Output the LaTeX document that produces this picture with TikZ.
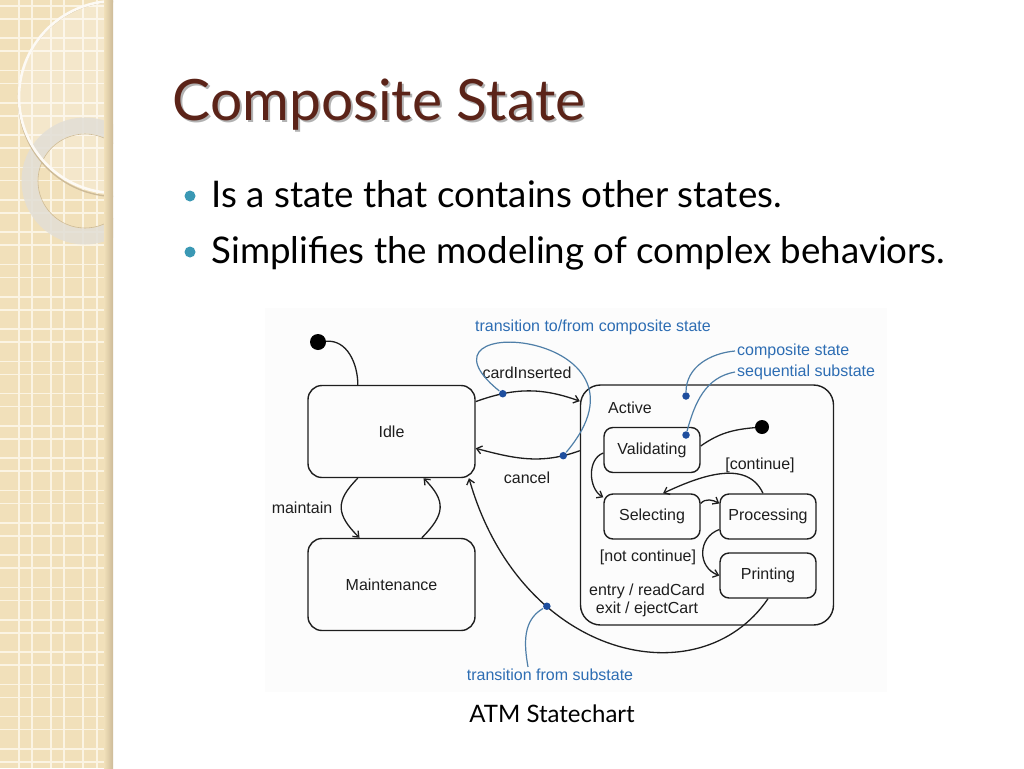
\documentclass[tikz,border=0pt]{standalone}
\usepackage{fontspec}
\setmainfont{Lato}
\newfontfamily\diagfont{Liberation Sans}
\usetikzlibrary{positioning}
\usetikzlibrary{calc}
\usetikzlibrary{arrows.meta}
\definecolor{titlebrown}{HTML}{5B2318}
\definecolor{bulletblue}{HTML}{3A98B4}
\definecolor{stripbeige}{HTML}{F1E0BA}
\definecolor{stripline}{HTML}{FBF4E3}
\definecolor{stripedge}{HTML}{CDBB98}
\definecolor{ringgrey}{HTML}{E2DED6}
\definecolor{notetext}{HTML}{2D6DB3}
\definecolor{noteline}{HTML}{4F7FA8}
\definecolor{notedot}{HTML}{1E4E9E}
\definecolor{ink}{HTML}{1E1E1E}
\tikzset{>={Straight Barb[length=5pt,width=8pt]}}
\tikzset{st/.style={draw=ink,line width=1.4pt,rounded corners=14pt,minimum width=167pt,minimum height=92pt,inner sep=0pt,text=ink,font=\diagfont\fontsize{16}{18}\selectfont}}
\tikzset{sub/.style={st,rounded corners=9pt,minimum width=96pt,minimum height=45pt}}
\tikzset{ed/.style={draw=ink,line width=1.3pt}}
\tikzset{lbl/.style={inner sep=0pt,text=ink,font=\diagfont\fontsize{16}{18}\selectfont}}
\tikzset{note/.style={inner sep=2pt,text=notetext,font=\diagfont\fontsize{16}{18}\selectfont}}
\tikzset{noteln/.style={draw=noteline,line width=1.2pt}}
\tikzset{bdot/.style={circle,fill=notedot,inner sep=0pt,minimum size=7.5pt}}
\tikzset{startdot/.style={circle,fill=black,inner sep=0pt,minimum size=16pt}}
\tikzset{bullet/.style={circle,fill=bulletblue,inner sep=0pt,minimum size=11pt}}

\begin{document}
\begin{tikzpicture}[x=1pt,y=-1pt]
        \useasboundingbox (0,0) rectangle (1024,768);
        \fill[white] (0,0) rectangle (1024,768);

        % side strip
        \fill[stripbeige] (0,0) rectangle (113,768);
        \foreach \vx in {19,32,51,64,83,97}
            \draw[stripline,line width=1.6pt] (\vx,0) -- (\vx,768);
        \foreach \k in {0,...,23} {
            \draw[stripline,line width=1.6pt] (0,{6+32.3*\k}) -- (113,{6+32.3*\k});
            \draw[stripline,line width=1.6pt] (0,{19+32.3*\k}) -- (113,{19+32.3*\k});
        }
        \begin{scope}
            \clip (0,0) rectangle (113,768);
            \fill[white,opacity=0.25] (115,97) circle[radius=96pt];
            \draw[line width=16pt,ringgrey,opacity=0.85] (85,181) circle[radius=55.5pt];
            \draw[line width=0.6pt,stripedge] (85,181) circle[radius=47pt];
            \draw[line width=1.4pt,stripedge] (116,99) circle[radius=97.5pt];
            \draw[line width=2.6pt,white!85!stripbeige] (115,97) circle[radius=96pt];
        \end{scope}
        \shade[left color=stripbeige,right color=stripedge] (104,0) rectangle (113,768);

        % slide text
        \node[anchor=base west,text=black,opacity=0.3,font=\fontsize{57}{60}\selectfont] at (171,122) {Composite State};
        \node[anchor=base west,text=titlebrown,font=\fontsize{57}{60}\selectfont] (title) at (169,120) {Composite State};
        \node[bullet] (dot1) at (190,196) {};
        \node[bullet] (dot2) at (190,252) {};
        \node[anchor=base west,font=\fontsize{36.7}{40}\selectfont] (b1) at (208,207) {Is a state that contains other states.};
        \node[anchor=base west,font=\fontsize{36.7}{40}\selectfont] (b2) at (208,263) {Simplifies the modeling of complex behaviors.};
        \node[font=\fontsize{24}{26}\selectfont] (caption) at (552,714) {ATM Statechart};

        % statechart
        \fill[black!1] (265,308) rectangle (887,692);
        \node[st] (Idle) at (391.5,431.5) {Idle};
        \node[st] (Maint) at (391.5,584.5) {Maintenance};
        \node[st,minimum width=253pt,minimum height=240pt,rounded corners=20pt] (Active) at (707,505) {};
        \node[lbl,anchor=west] (ActLbl) at (608,408) {Active};
        \node[sub] (Valid) at (652,450) {Validating};
        \node[sub] (Sel) at (652,516.5) {Selecting};
        \node[sub] (Proc) at (768,516.5) {Processing};
        \node[sub] (Print) at (768,575.5) {Printing};
        \node[startdot] (S0) at (318,342) {};
        \node[startdot,minimum size=14pt] (S1) at (762,427) {};

        \node[lbl] (lMaint) at (302,508) {maintain};
        \node[lbl] (lCard) at (527,373) {cardInserted};
        \node[lbl] (lCancel) at (527,478) {cancel};
        \node[lbl] (lCont) at (760,465) {[continue]};
        \node[lbl] (lNot) at (648,557) {[not continue]};
        \node[lbl,align=center] (lEntry) at (647,600) {entry / readCard\\exit / ejectCart};

        \draw[ed] (S0) to[out=5,in=90] ($(Idle.north west)!0.3!(Idle.north east)$);
        \draw[ed,->] ($(Idle.south west)!0.3!(Idle.south east)$) to[out=225,in=135,looseness=1.4] ($(Maint.north west)!0.31!(Maint.north east)$);
        \draw[ed,->] ($(Maint.north west)!0.68!(Maint.north east)$) to[out=45,in=-45,looseness=1.4] ($(Idle.south west)!0.69!(Idle.south east)$);
        \draw[ed,->] ($(Idle.north east)!0.18!(Idle.south east)$) to[out=20,in=160] node[bdot,pos=0.25] (d1) {} ($(Active.north west)!0.07!(Active.south west)$);
        \draw[ed,->] ($(Active.north west)!0.275!(Active.south west)$) to[out=200,in=-15] node[bdot,pos=0.15] (d2) {} ($(Idle.north east)!0.68!(Idle.south east)$);
        \draw[ed,->] (Print.south) .. controls +(-68,100) and +(52,182) .. ($(Idle.south west)!0.96!(Idle.south east)$) node[bdot,pos=0.69] (d5) {};

        \draw[ed] (S1) to[out=185,in=35] ($(Valid.east)+(0,-4)$);
        \draw[ed,->] ($(Valid.west)+(0,3)$) to[out=200,in=150] ($(Sel.north west)+(0,4)$);
        \draw[ed,->] ($(Proc.north)+(-5,0)$) to[out=115,in=25] ($(Sel.north)+(11,0)$);
        \draw[ed,->] ($(Sel.east)+(0,-13)$) to[out=50,in=150] ($(Proc.west)+(0,-13)$);
        \draw[ed,->] ($(Proc.west)+(0,13)$) to[out=200,in=160,looseness=1.3] (Print.west);

        % annotations
        \node[note] (nTrans) at (593,327) {transition to/from composite state};
        \node[note,anchor=west] (nComp) at (735,351) {composite state};
        \node[note,anchor=west] (nSeq) at (735,372) {sequential substate};
        \node[note] (nSub) at (550,675) {transition from substate};
        \node[bdot] (d3) at (686,396) {};
        \node[bdot] (d4) at (686,435) {};
        \draw[noteln] (d1) .. controls +(-104,-84) and +(107,-126) .. (d2);
        \draw[noteln] (nComp.west) to[out=185,in=90] (d3);
        \draw[noteln] (nSeq.west) to[out=190,in=75] (d4);
        \draw[noteln] ($(nSub.north)+(-22,0)$) to[out=100,in=210] (d5);
\end{tikzpicture}
\end{document}
